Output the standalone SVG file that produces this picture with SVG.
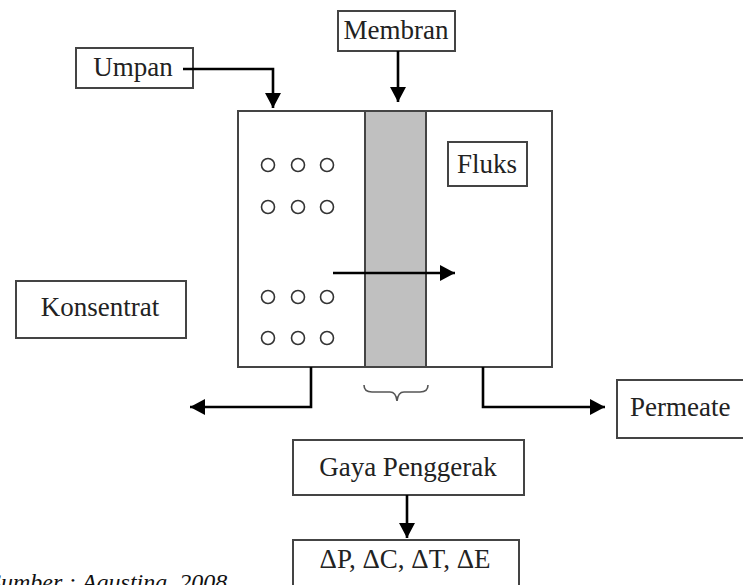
<svg xmlns="http://www.w3.org/2000/svg" width="743" height="585" viewBox="0 0 743 585">
<style>
.box{fill:#fff;stroke:#444;stroke-width:2}
.lbl{font-family:"Liberation Serif","Times New Roman",serif;font-size:27px;fill:#222;text-anchor:middle}
.conn{fill:none;stroke:#000;stroke-width:2.6}
.dot{fill:none;stroke:#333;stroke-width:1.6}
</style>
<defs>
<marker id="ah" viewBox="0 0 15 16" refX="15" refY="8" markerWidth="15" markerHeight="16" markerUnits="userSpaceOnUse" orient="auto">
<path d="M0,0 L15,8 L0,16 Z" fill="#000"/>
</marker>
</defs>
<rect width="743" height="585" fill="#fff"/>

<g id="module">
<rect class="box" x="238" y="111" width="314" height="256"/>
<rect x="365" y="111" width="61" height="256" fill="#c0c0c0" stroke="#444" stroke-width="2"/>
<g id="particles">
<circle class="dot" cx="268" cy="165" r="6.5"/>
<circle class="dot" cx="298" cy="165" r="6.5"/>
<circle class="dot" cx="327" cy="165" r="6.5"/>
<circle class="dot" cx="268" cy="207" r="6.5"/>
<circle class="dot" cx="298" cy="207" r="6.5"/>
<circle class="dot" cx="327" cy="207" r="6.5"/>
<circle class="dot" cx="268" cy="297" r="6.5"/>
<circle class="dot" cx="298" cy="297" r="6.5"/>
<circle class="dot" cx="327" cy="297" r="6.5"/>
<circle class="dot" cx="268" cy="338" r="6.5"/>
<circle class="dot" cx="298" cy="338" r="6.5"/>
<circle class="dot" cx="327" cy="338" r="6.5"/>
</g>
</g>

<g id="umpan">
<rect class="box" x="76" y="48" width="117" height="40"/>
<text class="lbl" x="133" y="76">Umpan</text>
</g>
<g id="membran">
<rect class="box" x="338" y="11" width="117" height="40"/>
<text class="lbl" x="396" y="39">Membran</text>
</g>
<g id="fluks">
<rect class="box" x="448" y="142" width="79" height="44"/>
<text class="lbl" x="487" y="173">Fluks</text>
</g>
<g id="konsentrat">
<rect class="box" x="16" y="281" width="170" height="57"/>
<text class="lbl" x="100" y="316">Konsentrat</text>
</g>
<g id="permeate">
<rect class="box" x="617" y="380" width="130" height="58"/>
<text class="lbl" x="630" y="416" style="text-anchor:start">Permeate</text>
</g>
<g id="gaya">
<rect class="box" x="293" y="440" width="231" height="55"/>
<text class="lbl" x="408" y="476">Gaya Penggerak</text>
</g>
<g id="delta">
<rect class="box" x="293" y="540" width="226" height="52"/>
<text class="lbl" x="405" y="568">ΔP, ΔC, ΔT, ΔE</text>
</g>

<g id="connectors">
<path class="conn" d="M183,69 H273 V108" marker-end="url(#ah)"/>
<path class="conn" d="M398,51 V102" marker-end="url(#ah)"/>
<path class="conn" d="M333,273 H455" marker-end="url(#ah)"/>
<path class="conn" d="M311,367 V407 H190" marker-end="url(#ah)"/>
<path class="conn" d="M483,367 V407 H605" marker-end="url(#ah)"/>
<path class="conn" d="M407,495 V538" marker-end="url(#ah)"/>
<path d="M364,385 Q364,392 372,392 H390 Q396,392 397,401 Q398,392 404,392 H420 Q428,392 428,385" fill="none" stroke="#555" stroke-width="1.6"/>
</g>

<text x="-11" y="590" style="font-family:'Liberation Serif','Times New Roman',serif;font-size:24px;font-style:italic;fill:#111">Sumber : Agustina, 2008</text>
</svg>
